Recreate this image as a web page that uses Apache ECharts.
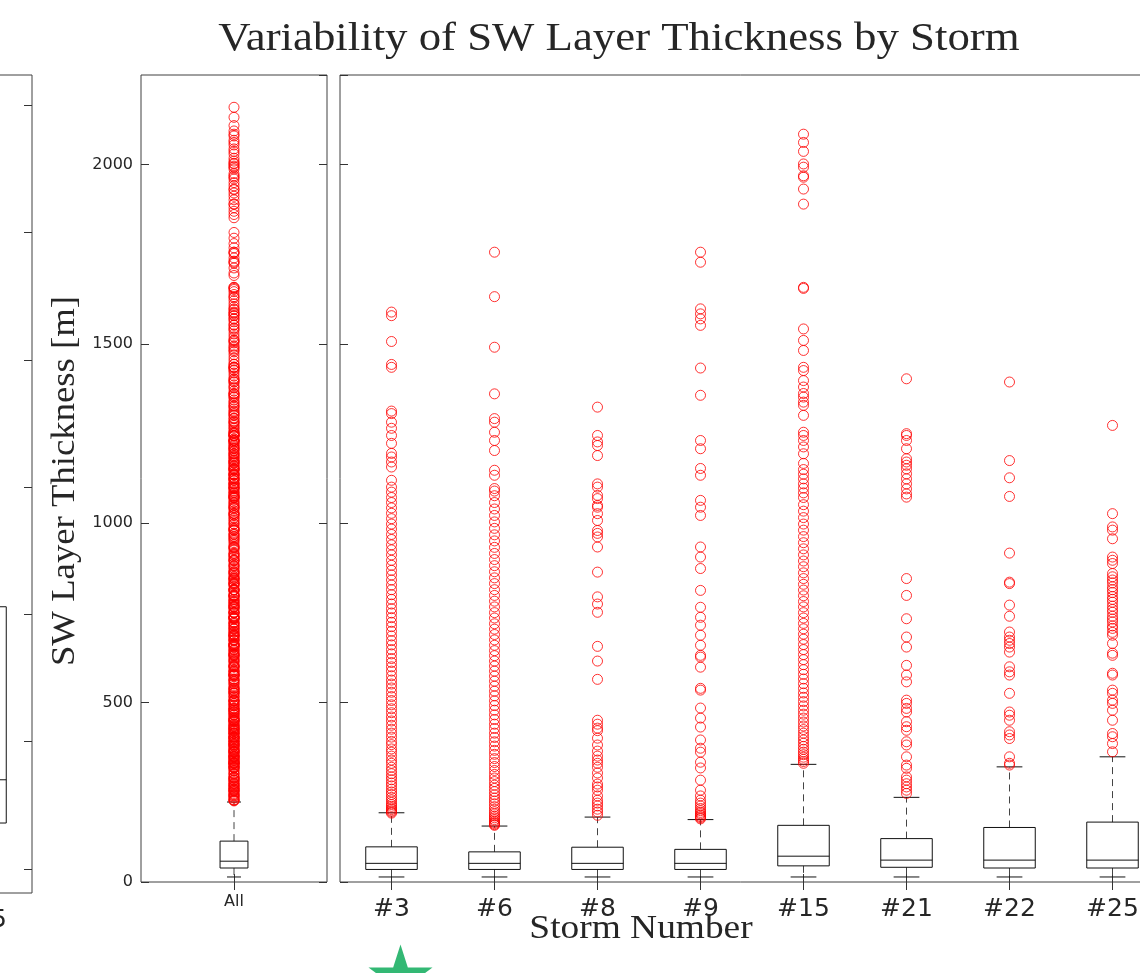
<!DOCTYPE html>
<html>
<head>
<meta charset="utf-8">
<script src="https://cdn.jsdelivr.net/npm/echarts@6/dist/echarts.min.js"></script>
<style>
  html, body { margin: 0; padding: 0; background: #fff; }
  #chart { width: 1140px; height: 973px; }
</style>
</head>
<body>
<div id="chart"></div>
<script>
var chart = echarts.init(document.getElementById('chart'));

// storm panel
var storms = ['#3', '#6', '#8', '#9', '#15', '#21', '#22', '#25'];
var whiskerLow = [14, 14, 14, 14, 14, 14, 14, 14];
var quart1 = [35, 35, 35, 35, 45, 41, 39, 39];
var medians = [52, 52, 52, 52, 72, 61, 61, 61];
var quart3 = [98, 84, 97, 91, 158, 121, 152, 167];
var whiskerHigh = [193, 156, 181, 174, 328, 236, 321, 349];

var out3 = [192, 195, 198, 202, 206, 211, 216, 222, 229, 236, 244, 251, 259, 268, 276, 285, 293, 302, 311, 320, 331, 340, 351, 362, 371, 383, 392, 404, 415, 426, 437, 449, 460, 472, 483, 494, 506, 517, 529, 541, 552, 563, 575, 588, 600, 612, 623, 636, 648, 661, 673, 686, 699, 712, 724, 737, 750, 762, 775, 788, 801, 815, 828, 842, 856, 869, 883, 897, 912, 926, 940, 955, 969, 984, 998, 1013, 1028, 1043, 1058, 1072, 1087, 1101, 1120, 1157, 1171, 1185, 1195, 1223, 1245, 1265, 1282, 1306, 1313, 1435, 1443, 1507, 1579, 1589];
var out6 = [158, 160, 163, 166, 170, 174, 179, 184, 190, 196, 203, 210, 218, 226, 234, 243, 252, 261, 270, 280, 290, 300, 311, 322, 333, 344, 356, 367, 379, 391, 403, 415, 428, 440, 453, 466, 479, 492, 505, 519, 532, 546, 560, 574, 588, 602, 616, 631, 645, 660, 675, 690, 705, 720, 736, 751, 767, 783, 799, 815, 832, 848, 865, 882, 899, 916, 933, 951, 968, 986, 1004, 1022, 1040, 1058, 1077, 1090, 1097, 1134, 1148, 1203, 1231, 1254, 1282, 1292, 1361, 1491, 1632, 1756];
var out8 = [186, 195, 203, 212, 220, 228, 240, 256, 265, 273, 290, 304, 320, 331, 340, 351, 365, 382, 401, 422, 429, 440, 451, 565, 616, 657, 752, 775, 795, 864, 934, 962, 972, 980, 1008, 1027, 1045, 1050, 1069, 1078, 1101, 1110, 1189, 1217, 1227, 1245, 1324];
var out9 = [176, 179, 182, 186, 190, 194, 199, 205, 212, 220, 228, 240, 256, 284, 318, 334, 362, 373, 396, 432, 457, 485, 535, 540, 599, 627, 632, 660, 688, 716, 738, 766, 813, 874, 906, 934, 1022, 1045, 1064, 1134, 1153, 1208, 1231, 1357, 1433, 1552, 1570, 1584, 1598, 1728, 1756];
var out15 = [331, 336, 342, 348, 355, 362, 370, 378, 387, 396, 405, 415, 425, 435, 446, 457, 468, 479, 491, 503, 515, 527, 540, 553, 566, 579, 592, 606, 620, 634, 648, 662, 677, 691, 706, 721, 736, 751, 767, 782, 798, 814, 830, 846, 862, 879, 895, 912, 929, 946, 963, 981, 998, 1016, 1034, 1052, 1072, 1085, 1098, 1110, 1124, 1137, 1150, 1167, 1194, 1213, 1231, 1245, 1254, 1301, 1329, 1338, 1352, 1362, 1380, 1398, 1426, 1435, 1482, 1510, 1542, 1655, 1658, 1890, 1932, 1965, 1969, 1993, 2002, 2037, 2062, 2085];
var out21 = [247, 256, 265, 274, 284, 293, 317, 326, 349, 382, 391, 423, 433, 447, 474, 484, 498, 507, 558, 577, 604, 655, 683, 734, 799, 846, 1073, 1082, 1096, 1110, 1124, 1138, 1152, 1162, 1171, 1180, 1208, 1231, 1245, 1250, 1403];
var out22 = [326, 331, 349, 400, 410, 419, 451, 465, 474, 526, 577, 586, 600, 641, 655, 665, 674, 683, 697, 741, 772, 832, 836, 917, 1075, 1127, 1175, 1394];
var out25 = [363, 386, 405, 414, 451, 479, 498, 507, 526, 535, 577, 582, 632, 638, 665, 688, 696, 707, 714, 725, 733, 741, 752, 760, 769, 780, 788, 796, 807, 815, 823, 834, 842, 851, 860, 888, 897, 906, 957, 981, 990, 1027, 1273];
var stormOutliers = [out3, out6, out8, out9, out15, out21, out22, out25];

// "All" panel
var allCats = ['All'];
var allBox = [14, 39, 58, 114, 223];
var allExtraOutliers = [1104, 1112, 1119, 1127, 1136, 1143, 1151, 1160, 1168, 1176, 1185, 1193, 1201, 1210, 1218, 1226, 1235, 1243, 1251, 1260, 1268, 1277, 1285, 1293, 1302, 1310, 1319, 1327, 1335, 1344, 1352, 1361, 1369, 1377, 1386, 1394, 1402, 1411, 1419, 1428, 1436, 1444, 1453, 1461, 1470, 1478, 1486, 1495, 1503, 1512, 1520, 1528, 1537, 1545, 1554, 1562, 1570, 1579, 1587, 1596, 1604, 1612, 1621, 1629, 1638, 1646, 1652, 1658, 1691, 1698, 1712, 1725, 1731, 1740, 1752, 1768, 1780, 1795, 1811, 1852, 1861, 1870, 1880, 1890, 1902, 1912, 1921, 1930, 1941, 1950, 1960, 1975, 1988, 1996, 2004, 2010, 2018, 2030, 2044, 2055, 2068, 2080, 2094, 2109, 2132, 2160];

// cut-off panel on the left edge
var partialCats = ['#25'];
var partialBox = [5, 36, 70, 206, 400];
var partialTicks = [0, 100, 200, 300, 400, 500, 600];

var yTicks = [0, 500, 1000, 1500, 2000];
var starPoint = [0, -258];

var frameColor = '#404040';
var textColor = '#262626';

function boxRenderer(ratio) {
    return function (params, api) {
        var x = api.value(0);
        var lo = api.coord([x, api.value(1)]);
        var q1 = api.coord([x, api.value(2)]);
        var md = api.coord([x, api.value(3)]);
        var q3 = api.coord([x, api.value(4)]);
        var hi = api.coord([x, api.value(5)]);
        var bw = api.size([1, 0])[0] * ratio;
        var cw = bw / 2;
        var cx = lo[0];
        var dash = { stroke: '#444', lineWidth: 1, lineDash: [7, 5] };
        var solid = { stroke: '#111', lineWidth: 1 };
        return {
            type: 'group',
            children: [
                { type: 'line', shape: { x1: cx, y1: q3[1], x2: cx, y2: hi[1] }, style: dash },
                { type: 'line', shape: { x1: cx, y1: q1[1], x2: cx, y2: lo[1] }, style: dash },
                { type: 'line', shape: { x1: cx - cw / 2, y1: hi[1], x2: cx + cw / 2, y2: hi[1] }, style: solid },
                { type: 'line', shape: { x1: cx - cw / 2, y1: lo[1], x2: cx + cw / 2, y2: lo[1] }, style: solid },
                { type: 'rect', shape: { x: cx - bw / 2, y: q3[1], width: bw, height: q1[1] - q3[1] }, style: { fill: 'none', stroke: '#111', lineWidth: 1 } },
                { type: 'line', shape: { x1: cx - bw / 2, y1: md[1], x2: cx + bw / 2, y2: md[1] }, style: solid }
            ]
        };
    };
}

// build series data
var stormBoxData = storms.map(function (s, i) {
    return [i, whiskerLow[i], quart1[i], medians[i], quart3[i], whiskerHigh[i]];
});
var stormOutData = [];
stormOutliers.forEach(function (arr, i) {
    arr.forEach(function (v) { stormOutData.push([i, v]); });
});
var allOutData = [];
stormOutliers.forEach(function (arr) {
    arr.forEach(function (v) { if (v >= allBox[4]) allOutData.push([0, v]); });
});
allExtraOutliers.forEach(function (v) { allOutData.push([0, v]); });

var outlierStyle = {
    type: 'scatter',
    symbol: 'circle',
    symbolSize: 10,
    itemStyle: { color: 'rgba(0,0,0,0)', borderColor: '#ff0000', borderWidth: 1 },
    silent: true
};

function tickStyle() {
    return { show: true, inside: true, length: 8, alignWithLabel: true, lineStyle: { color: '#333', width: 1 } };
}

function catAxis(gridIndex, cats, pos, labelSize) {
    return {
        type: 'category',
        gridIndex: gridIndex,
        position: pos,
        data: cats,
        boundaryGap: true,
        axisLine: { show: false },
        axisTick: tickStyle(),
        axisLabel: labelSize ? { show: true, fontSize: labelSize, color: textColor, fontFamily: 'DejaVu Sans', margin: labelSize > 20 ? 15 : 12 } : { show: false },
        splitLine: { show: false }
    };
}

function valAxis(gridIndex, pos, min, max, showLabels) {
    return {
        type: 'value',
        gridIndex: gridIndex,
        position: pos,
        min: min,
        max: max,
        interval: 500,
        axisLine: { show: false },
        axisTick: tickStyle(),
        axisLabel: showLabels ? {
            show: true, fontSize: 16, color: textColor, fontFamily: 'DejaVu Sans', margin: 8,
            formatter: function (v) { return String(v); }
        } : { show: false },
        splitLine: { show: false }
    };
}

var yAll = valAxis(1, 'left', 0, 2250, true);
yAll.axisLabel.customValues = yTicks;
yAll.axisTick.customValues = yTicks;

var yPartL = valAxis(0, 'left', -19, 624, false);
var yPartR = valAxis(0, 'right', -19, 624, false);
yPartL.interval = 100; yPartR.interval = 100;
yPartL.axisTick.customValues = partialTicks;
yPartR.axisTick.customValues = partialTicks;

function panel(left, width, bottom) {
    return {
        left: left, width: width, top: 75, bottom: bottom,
        outerBoundsMode: 'none', containLabel: false,
        show: true, borderColor: frameColor, borderWidth: 1, backgroundColor: 'transparent'
    };
}

var option = {
    animation: false,
    backgroundColor: '#fff',
    grid: [
        panel(-71, 103, 80),
        panel(141, 186, 91),
        panel(340, 824, 91)
    ],
    xAxis: [
        catAxis(0, partialCats, 'bottom', 25),
        catAxis(0, partialCats, 'top', 0),
        catAxis(1, allCats, 'bottom', 16),
        catAxis(1, allCats, 'top', 0),
        catAxis(2, storms, 'bottom', 25),
        catAxis(2, storms, 'top', 0)
    ],
    yAxis: [
        yPartL,
        yPartR,
        yAll,
        valAxis(1, 'right', 0, 2250, false),
        valAxis(2, 'left', 0, 2250, false),
        valAxis(2, 'right', 0, 2250, false)
    ],
    graphic: [
        {
            type: 'text', x: 619, y: 39, scaleX: 1.12,
            style: { text: 'Variability of SW Layer Thickness by Storm', font: '40px "Liberation Serif"', fill: textColor, align: 'center', verticalAlign: 'middle' }
        },
        {
            type: 'text', x: 641, y: 929, scaleX: 1.1,
            style: { text: 'Storm Number', font: '34px "Liberation Serif"', fill: textColor, align: 'center', verticalAlign: 'middle' }
        },
        {
            type: 'text', x: 65, y: 481, rotation: Math.PI / 2, scaleX: 1.08,
            style: { text: 'SW Layer Thickness [m]', font: '34px "Liberation Serif"', fill: textColor, align: 'center', verticalAlign: 'middle' }
        }
    ],
    series: [
        {
            type: 'custom', xAxisIndex: 0, yAxisIndex: 0,
            renderItem: boxRenderer(0.5),
            encode: { x: 0, y: [1, 2, 3, 4, 5] },
            data: [[0].concat(partialBox)],
            silent: true
        },
        Object.assign({ xAxisIndex: 2, yAxisIndex: 2, data: allOutData }, outlierStyle),
        {
            type: 'custom', xAxisIndex: 2, yAxisIndex: 2,
            renderItem: boxRenderer(0.15),
            encode: { x: 0, y: [1, 2, 3, 4, 5] },
            data: [[0].concat(allBox)],
            silent: true
        },
        Object.assign({ xAxisIndex: 4, yAxisIndex: 4, data: stormOutData }, outlierStyle),
        {
            type: 'custom', xAxisIndex: 4, yAxisIndex: 4,
            renderItem: boxRenderer(0.5),
            encode: { x: 0, y: [1, 2, 3, 4, 5] },
            data: stormBoxData,
            silent: true
        },
        {
            type: 'scatter', xAxisIndex: 4, yAxisIndex: 4,
            data: [starPoint],
            clip: false,
            symbol: 'path://M50,0 L61,35 L98,35 L68,57 L79,91 L50,70 L21,91 L32,57 L2,35 L39,35 Z',
            symbolSize: [64, 60],
            symbolOffset: [9, 0],
            itemStyle: { color: '#00a651' },
            silent: true
        }
    ]
};

chart.setOption(option);
</script>
</body>
</html>
